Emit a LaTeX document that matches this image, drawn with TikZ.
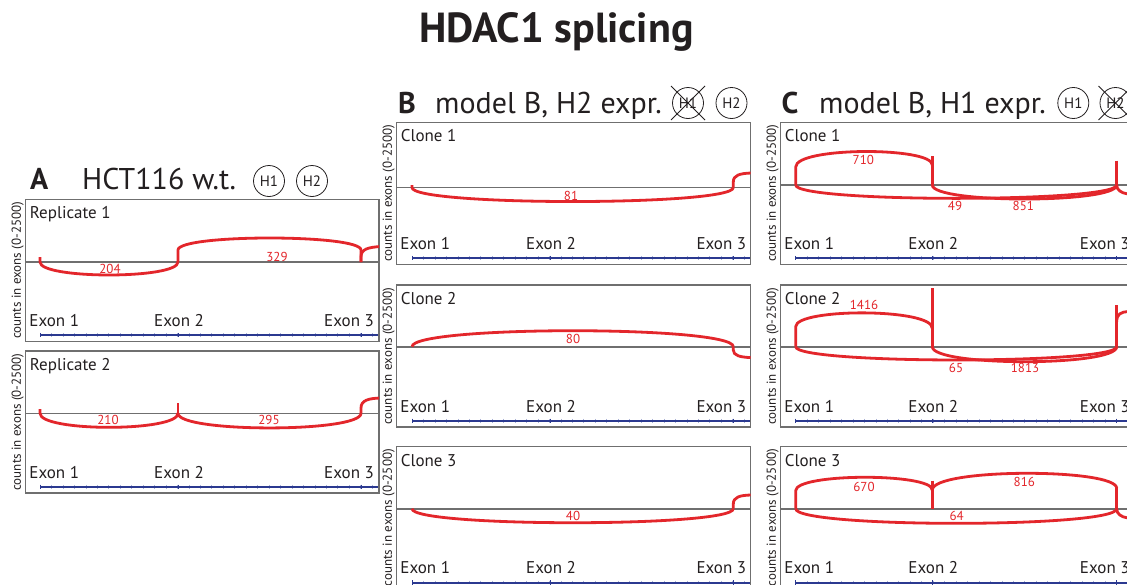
\documentclass[tikz,border=0pt]{standalone}
\usepackage{fontspec}
\setmainfont{PT Sans}
\usetikzlibrary{calc}
\definecolor{sred}{HTML}{E3262B}
\definecolor{sblue}{HTML}{2B3990}
\definecolor{stick}{HTML}{A9B1D6}
\definecolor{sgray}{HTML}{6F6F6F}
\definecolor{stext}{HTML}{231F20}
\tikzset{
  boxline/.style={draw=sgray, line width=1.5pt},
  axisline/.style={draw=sgray, line width=1.6pt},
  blueline/.style={draw=sblue, line width=2pt},
  tickline/.style={draw=stick, line width=0.6pt},
  bigtick/.style={draw=sblue, line width=1pt},
  junc/.style={draw=sred, line width=2.8pt},
  boxlab/.style={text=stext, inner sep=0pt, font=\fontsize{17}{18}\selectfont},
  exlab/.style={text=stext, inner sep=0pt, font=\fontsize{17}{18}\selectfont},
  ylab/.style={text=stext, inner sep=0pt, rotate=90, font=\fontsize{13}{14}\selectfont},
  cnt/.style={text=sred, inner sep=0pt, font=\fontsize{13}{14}\selectfont},
  ptitle/.style={text=stext, inner sep=0pt, anchor=base west, font=\fontsize{30}{32}\selectfont},
  pletter/.style={text=stext, inner sep=0pt, anchor=base west, font=\fontsize{30}{32}\selectfont\bfseries},
  hcirc/.style={circle, draw=stext, line width=0.8pt, minimum size=31pt, inner sep=0pt, text=stext, font=\fontsize{15}{16}\selectfont},
  xline/.style={draw=stext, line width=0.8pt}
}
% #1 name, #2 left, #3 top, #4 right, #5 label, #6 axis y, #7 ex1, #8 ex2, #9 ex3
\newcommand\spanel[9]{%
  \pgfmathsetmacro\pB{#3+142}%
  \pgfmathsetmacro\pL{#3+19.5}%
  \pgfmathsetmacro\pE{#3+127}%
  \pgfmathsetmacro\pU{#3+136}%
  \pgfmathsetmacro\pY{#2-8}%
  \pgfmathsetmacro\pC{#3+71}%
  \pgfmathsetmacro\pX{#9-37}%
  \pgfmathsetmacro\pM{#8+1}%
  \pgfmathsetmacro\pT{#2+4}%
  \pgfmathsetmacro\pF{#2+3.5}%
  \fill[white] (#2,#3) rectangle (#4,\pB);
  \node[boxlab, anchor=base west] (#1-lab) at (\pT,\pL) {#5};
  \draw[axisline] (#2,#6) -- (#4,#6);
  \node[ylab] (#1-y) at (\pY,\pC) {counts in exons (0-2500)};
  \node[exlab, anchor=base west] (#1-e1) at (\pF,\pE) {Exon 1};
  \node[exlab, anchor=base] (#1-e2) at (\pM,\pE) {Exon 2};
  \node[exlab, anchor=base west] (#1-e3) at (\pX,\pE) {Exon 3};
  \foreach \k in {0,...,31} {%
    \pgfmathsetmacro\tx{#7+\k*11.45}%
    \pgfmathparse{\tx<#4-1 ? 1 : 0}%
    \ifnum\pgfmathresult=1 \draw[tickline] (\tx,\pU-2.2) -- (\tx,\pU+1.6);\fi
  }
  \draw[blueline] (#7,\pU) -- (#4,\pU);
  \draw[bigtick] (#7,\pU-2.5) -- (#7,\pU+2);
  \draw[bigtick] (#8,\pU-2.5) -- (#8,\pU+2);
  \draw[bigtick] (#9,\pU-2.5) -- (#9,\pU+2);
  \draw[boxline] (#2,#3) rectangle (#4,\pB);
}
\begin{document}
\begin{tikzpicture}[x=1pt,y=-1pt]
\useasboundingbox (0,0) rectangle (1127,584);
\clip (0,0) rectangle (1127,584);
\fill[white] (0,0) rectangle (1127,584);

% main title
\node[text=stext, inner sep=0pt, anchor=base, font=\fontsize{42}{44}\selectfont\bfseries] (title) at (556.5,42) {HDAC1 splicing};

% panel titles
\node[pletter] (a-L) at (30,189) {A};
\node[ptitle] (a-T) at (82,189) {HCT116 w.t.};
\node[hcirc] (a-h1) at (269,181) {H1};
\node[hcirc] (a-h2) at (312,181) {H2};

\node[pletter] (b-L) at (398,113) {B};
\node[ptitle] (b-T) at (435,113) {model B, H2 expr.};
\node[hcirc] (b-h1) at (688,103) {H1};
\draw[xline] ($(b-h1.center)+(-17,-17)$) -- ($(b-h1.center)+(17,17)$);
\draw[xline] ($(b-h1.center)+(-17,17)$) -- ($(b-h1.center)+(17,-17)$);
\node[hcirc] (b-h2) at (731.5,103) {H2};

\node[pletter] (c-L) at (781.5,113) {C};
\node[ptitle] (c-T) at (819,113) {model B, H1 expr.};
\node[hcirc] (c-h1) at (1073.3,103) {H1};
\node[hcirc] (c-h2) at (1115.5,103) {H2};
\draw[xline] ($(c-h2.center)+(-17,-17)$) -- ($(c-h2.center)+(17,17)$);
\draw[xline] ($(c-h2.center)+(-17,17)$) -- ($(c-h2.center)+(17,-17)$);

% ---------- panel A ----------
\spanel{a1}{25.7}{199.3}{379}{Replicate 1}{262}{40}{178}{361}
\begin{scope}
\clip (25.7,199.3) rectangle (379,341.3);
\draw[junc] (40,257) -- (40,262) .. controls (40,279.3) and (178,279.3) .. (178,262);
\draw[junc] (178,262) -- (178,250) .. controls (178,234) and (361,234) .. (361,250) -- (361,262);
\draw[junc] (361,262) -- (361,257) .. controls (361,249) and (368,247.5) .. (380,246.5);
\end{scope}
\node[cnt] (a1-c1) at (110,268.5) {204};
\node[cnt] (a1-c2) at (277,257) {329};

\spanel{a2}{25.7}{351}{379}{Replicate 2}{413.3}{40}{178}{361}
\begin{scope}
\clip (25.7,351) rectangle (379,493);
\draw[junc] (40,409) -- (40,413.3) .. controls (40,432) and (178,432) .. (178,413.3);
\draw[junc] (178,413.3) -- (178,403);
\draw[junc] (178,413.3) .. controls (178,432.8) and (361,432.8) .. (361,413.3);
\draw[junc] (361,413.3) -- (361,408) .. controls (361,400) and (369,398.5) .. (380,398);
\end{scope}
\node[cnt] (a2-c1) at (108,420) {210};
\node[cnt] (a2-c2) at (269,420) {295};

% ---------- panel B ----------
\spanel{b1}{396.7}{122.3}{750.5}{Clone 1}{187.5}{412}{550}{733.3}
\begin{scope}
\clip (396.7,122.3) rectangle (750.5,265);
\draw[junc] (412,185) -- (412,187.5) .. controls (412,206.2) and (733.3,206.2) .. (733.3,187.5);
\draw[junc] (733.3,187.5) -- (733.3,182) .. controls (733.3,175) and (740,173.5) .. (751,173);
\end{scope}
\node[cnt] (b1-c1) at (571,196) {81};

\spanel{b2}{396.7}{285}{750.5}{Clone 2}{346.7}{412}{550}{733.3}
\begin{scope}
\clip (396.7,285) rectangle (750.5,427);
\draw[junc] (412,346.7) .. controls (412,325.4) and (733.3,325.4) .. (733.3,346.7);
\draw[junc] (733.3,346.7) -- (733.3,350) .. controls (733.3,355.5) and (740,357.2) .. (751,357.6);
\end{scope}
\node[cnt] (b2-c1) at (573,339.3) {80};

\spanel{b3}{396.7}{446.7}{750.5}{Clone 3}{508.7}{412}{550}{733.3}
\begin{scope}
\clip (396.7,446.7) rectangle (750.5,590);
\draw[junc] (412,508.7) .. controls (412,527.4) and (733.3,527.4) .. (733.3,508.7);
\draw[junc] (733.3,508.7) -- (733.3,504) .. controls (733.3,497) and (740,495.3) .. (751,495);
\end{scope}
\node[cnt] (b3-c1) at (573,516) {40};

% ---------- panel C ----------
\spanel{c1}{780.7}{122.3}{1140}{Clone 1}{185}{795.7}{932.3}{1116.7}
\draw[junc] (795.7,185) -- (795.7,167) .. controls (795.7,146.7) and (932.3,146.7) .. (932.3,165);
\draw[junc] (932.3,156) -- (932.3,185);
\draw[junc] (1116.7,160.7) -- (1116.7,185);
\draw[junc] (795.7,185) .. controls (795.7,202.8) and (1116.7,202.8) .. (1116.7,185);
\draw[junc] (932.3,185) .. controls (932.3,203.7) and (1116.7,203.7) .. (1116.7,185);
\draw[junc] (1116.7,185) .. controls (1116.7,190) and (1121,193) .. (1128,194);
\node[cnt] (c1-c1) at (863.3,160) {710};
\node[cnt] (c1-c2) at (955,206) {49};
\node[cnt] (c1-c3) at (1023.3,206) {851};

\spanel{c2}{780.7}{285}{1140}{Clone 2}{346.7}{795.7}{932.3}{1116.7}
\draw[junc] (795.7,346.7) -- (795.7,326.7) .. controls (795.7,308) and (932.3,308) .. (932.3,328.3);
\draw[junc] (932.3,288.3) -- (932.3,346.7);
\draw[junc] (1116.7,305) -- (1116.7,346.7);
\draw[junc] (1116.7,321.7) .. controls (1116.7,314) and (1121,312) .. (1128,311.5);
\draw[junc] (795.7,346.7) .. controls (795.7,364.4) and (1116.7,364.4) .. (1116.7,346.7);
\draw[junc] (932.3,346.7) .. controls (932.3,366.7) and (1116.7,366.7) .. (1116.7,346.7);
\node[cnt] (c2-c1) at (864,305) {1416};
\node[cnt] (c2-c2) at (956,368.3) {65};
\node[cnt] (c2-c3) at (1025,368) {1813};

\spanel{c3}{780.7}{446.7}{1140}{Clone 3}{508.7}{795.7}{932.3}{1116.7}
\draw[junc] (795.7,508.7) -- (795.7,490.7) .. controls (795.7,472.9) and (932.3,472.9) .. (932.3,490);
\draw[junc] (932.3,490) .. controls (932.3,468) and (1116.7,468) .. (1116.7,488.3);
\draw[junc] (932.3,480.7) -- (932.3,508.7);
\draw[junc] (1116.7,488.3) -- (1116.7,508.7);
\draw[junc] (795.7,508.7) .. controls (795.7,528.2) and (1116.7,528.2) .. (1116.7,508.7);
\draw[junc] (1116.7,508.7) .. controls (1116.7,514) and (1121,517) .. (1128,518);
\node[cnt] (c3-c1) at (864,486.7) {670};
\node[cnt] (c3-c2) at (1024.3,481.7) {816};
\node[cnt] (c3-c3) at (956.7,516) {64};
\end{tikzpicture}
\end{document}
